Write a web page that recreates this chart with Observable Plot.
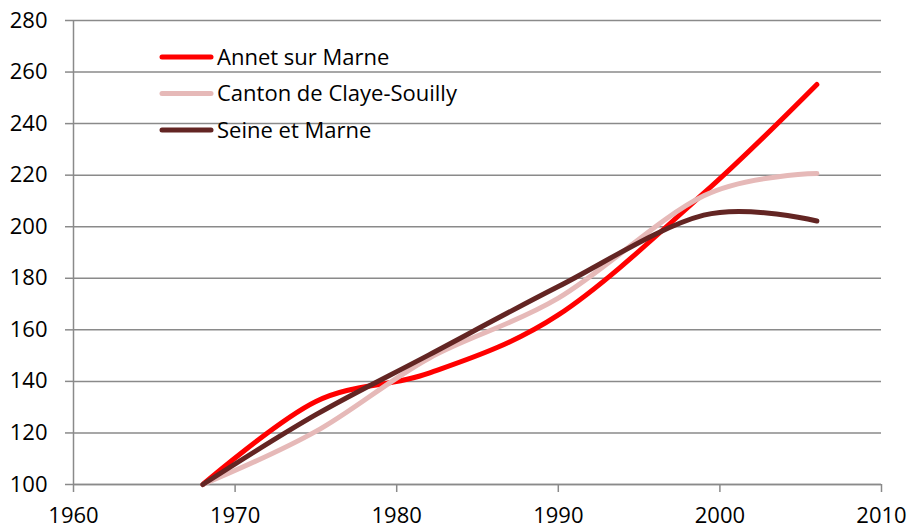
<!DOCTYPE html>
<html>
<head>
<meta charset="utf-8">
<script src="https://cdn.jsdelivr.net/npm/d3@7"></script>
<script src="https://cdn.jsdelivr.net/npm/@observablehq/plot@0.6"></script>
<style>
  html, body { margin: 0; padding: 0; background: #fff; }
  #chart { position: relative; width: 911px; height: 529px; }
  #legend { position: absolute; left: 0; top: 0; pointer-events: none; }
</style>
</head>
<body>
<div id="chart"></div>
<script>
// Data (index, 1968 = 100)
const years  = [1968, 1975, 1982, 1990, 1999, 2006];
const annet  = [100, 132.2, 143.2, 165.8, 213.0, 255.2];
const canton = [100, 120.6, 149.0, 172.3, 212.0, 220.6];
const seine  = [100, 127.1, 150.3, 176.8, 204.5, 202.2];

const seriesNames  = ["Annet sur Marne", "Canton de Claye-Souilly", "Seine et Marne"];
const seriesValues = [annet, canton, seine];
const seriesColors = ["#FF0000", "#E6B9B8", "#632523"];

const xTicks = [1960, 1970, 1980, 1990, 2000, 2010];
const yTicks = [100, 120, 140, 160, 180, 200, 220, 240, 260, 280];

const rows = [];
seriesNames.forEach((name, i) => {
  years.forEach((yr, j) => rows.push({series: name, year: yr, value: seriesValues[i][j]}));
});

const gridColor = "#8a8a8a";
const font = "'Open Sans', 'Liberation Sans', sans-serif";

const plot = Plot.plot({
  width: 911,
  height: 529,
  marginLeft: 73,
  marginRight: 30,
  marginTop: 20,
  marginBottom: 45,
  style: {fontFamily: font, fontSize: "22px", color: "#000", background: "#fff"},
  x: {domain: [1960, 2010]},
  y: {domain: [100, 280]},
  color: {domain: seriesNames, range: seriesColors},
  marks: [
    Plot.gridY(yTicks, {stroke: gridColor, strokeOpacity: 1, strokeWidth: 1.5}),
    Plot.axisY(yTicks, {tickSize: 8, tickPadding: 18, stroke: gridColor, strokeOpacity: 1, strokeWidth: 1.5, label: null, fontSize: 22, fill: "#000"}),
    Plot.axisX(xTicks, {tickSize: 8, tickPadding: 15, stroke: gridColor, strokeOpacity: 1, strokeWidth: 1.5, label: null, tickFormat: "d", fontSize: 22, fill: "#000"}),
    Plot.ruleX([1960], {stroke: gridColor, strokeWidth: 1.5}),
    Plot.ruleY([100], {stroke: gridColor, strokeWidth: 1.5}),
    ...seriesNames.map(name => Plot.line(rows.filter(r => r.series === name), {
      x: "year", y: "value", stroke: "series", strokeWidth: 5,
      curve: "cardinal", strokeLinecap: "round", strokeLinejoin: "round"
    }))
  ]
});

const chart = document.getElementById("chart");
chart.appendChild(plot);

// Legend overlay (inside plot area, top-left)
const legend = d3.select(chart).append("svg")
  .attr("id", "legend")
  .attr("width", 911).attr("height", 529);
const lg = legend.selectAll("g").data(seriesNames).join("g")
  .attr("transform", (d, i) => `translate(160,${57 + i * 36.5})`);
lg.append("line")
  .attr("x1", 2).attr("x2", 51).attr("y1", 0).attr("y2", 0)
  .attr("stroke", (d, i) => seriesColors[i])
  .attr("stroke-width", 5).attr("stroke-linecap", "round");
lg.append("text")
  .attr("x", 57).attr("y", 0).attr("dy", "0.36em")
  .attr("font-family", font).attr("font-size", 22)
  .attr("fill", "#000")
  .text(d => d);
</script>
</body>
</html>
